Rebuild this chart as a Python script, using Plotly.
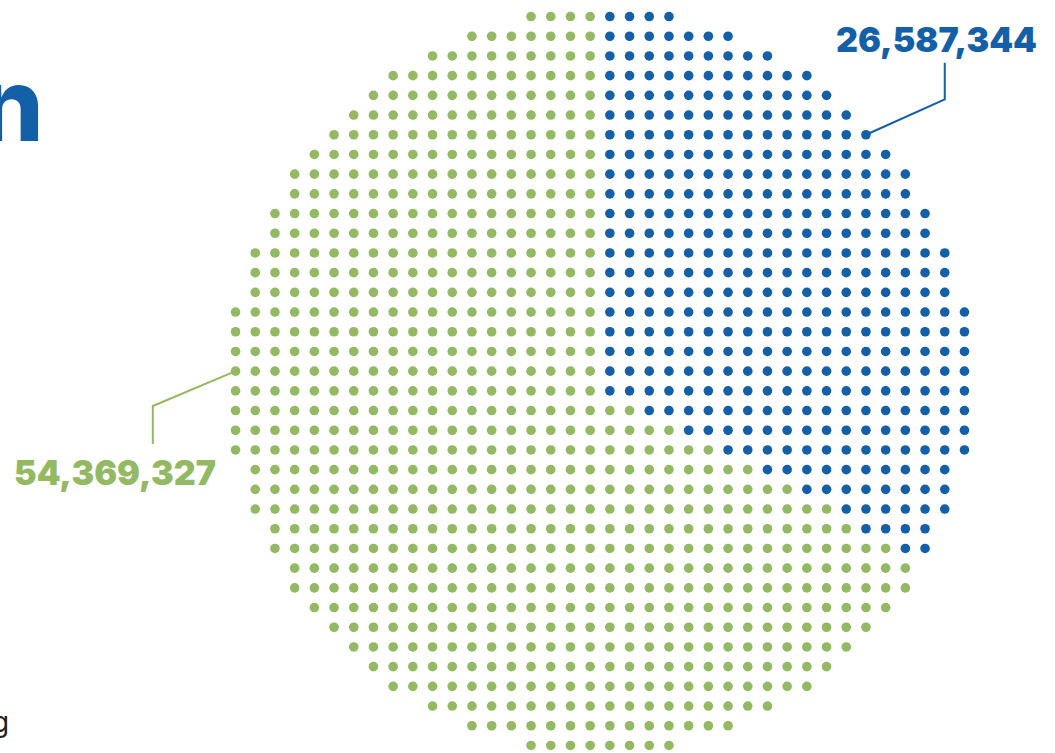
import numpy as np
import plotly.graph_objects as go

# ---------------- data ----------------
segment_names = ["Segment A", "Segment B"]
segment_values = [54369327, 26587344]
segment_labels = [f"{v:,}" for v in segment_values]
segment_colors = ["#93b962", "#135fa8"]

# ---------------- layout constants ----------------
W, H = 1055, 753
SPACING = 19.7          # px per dot step
CX_PX, CY_PX = 600, 381  # centre of the dot disc in px
GRID_N = 38
RADIUS2 = 362.0         # squared disc radius (grid units)
PIE_DY = 0.29           # pie centre offset (grid units, downward)

coords = np.arange(GRID_N) - (GRID_N - 1) / 2
gx, gy = np.meshgrid(coords, coords)
gx, gy = gx.ravel(), gy.ravel()
inside = gx ** 2 + gy ** 2 <= RADIUS2
gx, gy = gx[inside], gy[inside]

# clockwise angle from 12 o'clock
angle = np.degrees(np.arctan2(gx, -(gy - PIE_DY))) % 360
share_b = segment_values[1] / sum(segment_values)
is_b = angle < 360 * share_b

fig = go.Figure()
fig.add_trace(go.Scatter(x=gx[~is_b], y=gy[~is_b], mode="markers", name=segment_names[0],
                         marker=dict(size=9.6, color=segment_colors[0]), hoverinfo="skip"))
fig.add_trace(go.Scatter(x=gx[is_b], y=gy[is_b], mode="markers", name=segment_names[1],
                         marker=dict(size=9.6, color=segment_colors[1]), hoverinfo="skip"))

# leader lines (grid units)
fig.add_trace(go.Scatter(x=[13.5, 17.5, 17.5], y=[-12.5, -14.3, -16.15], mode="lines",
                         line=dict(color=segment_colors[1], width=2), hoverinfo="skip"))
fig.add_trace(go.Scatter(x=[-18.5, -22.7, -22.7], y=[-0.5, 1.27, 3.2], mode="lines",
                         line=dict(color=segment_colors[0], width=2), hoverinfo="skip"))

label_font = dict(family="Inter, Noto Sans, sans-serif", size=34, weight=900)
fig.add_annotation(x=17.06, y=-17.31, xref="x", yref="y", text=segment_labels[1],
                   showarrow=False, xanchor="center", yanchor="middle",
                   font=dict(**label_font, color=segment_colors[1]))
fig.add_annotation(x=-24.62, y=4.62, xref="x", yref="y", text=segment_labels[0],
                   showarrow=False, xanchor="center", yanchor="middle",
                   font=dict(**label_font, color=segment_colors[0]))

# cropped title fragments
fig.add_annotation(x=46 / W, y=1 - 104 / H, xref="paper", yref="paper", text="n",
                   showarrow=False, xanchor="right", yanchor="middle",
                   font=dict(family="Inter, sans-serif", size=102, weight=800, color=segment_colors[1]))
fig.add_annotation(x=11 / W, y=1 - 722 / H, xref="paper", yref="paper", text="g",
                   showarrow=False, xanchor="right", yanchor="middle",
                   font=dict(family="Inter, sans-serif", size=28, color="#231f20"))

fig.update_layout(
    width=W, height=H,
    margin=dict(l=0, r=0, t=0, b=0),
    paper_bgcolor="white", plot_bgcolor="white",
    showlegend=False,
    xaxis=dict(range=[(0 - CX_PX) / SPACING, (W - CX_PX) / SPACING], visible=False, fixedrange=True),
    yaxis=dict(range=[(H - CY_PX) / SPACING, (0 - CY_PX) / SPACING], visible=False, fixedrange=True),
)

fig.write_html("out.html", config={"displayModeBar": False},
               post_script="document.body.style.margin='0';document.body.style.padding='0';")
